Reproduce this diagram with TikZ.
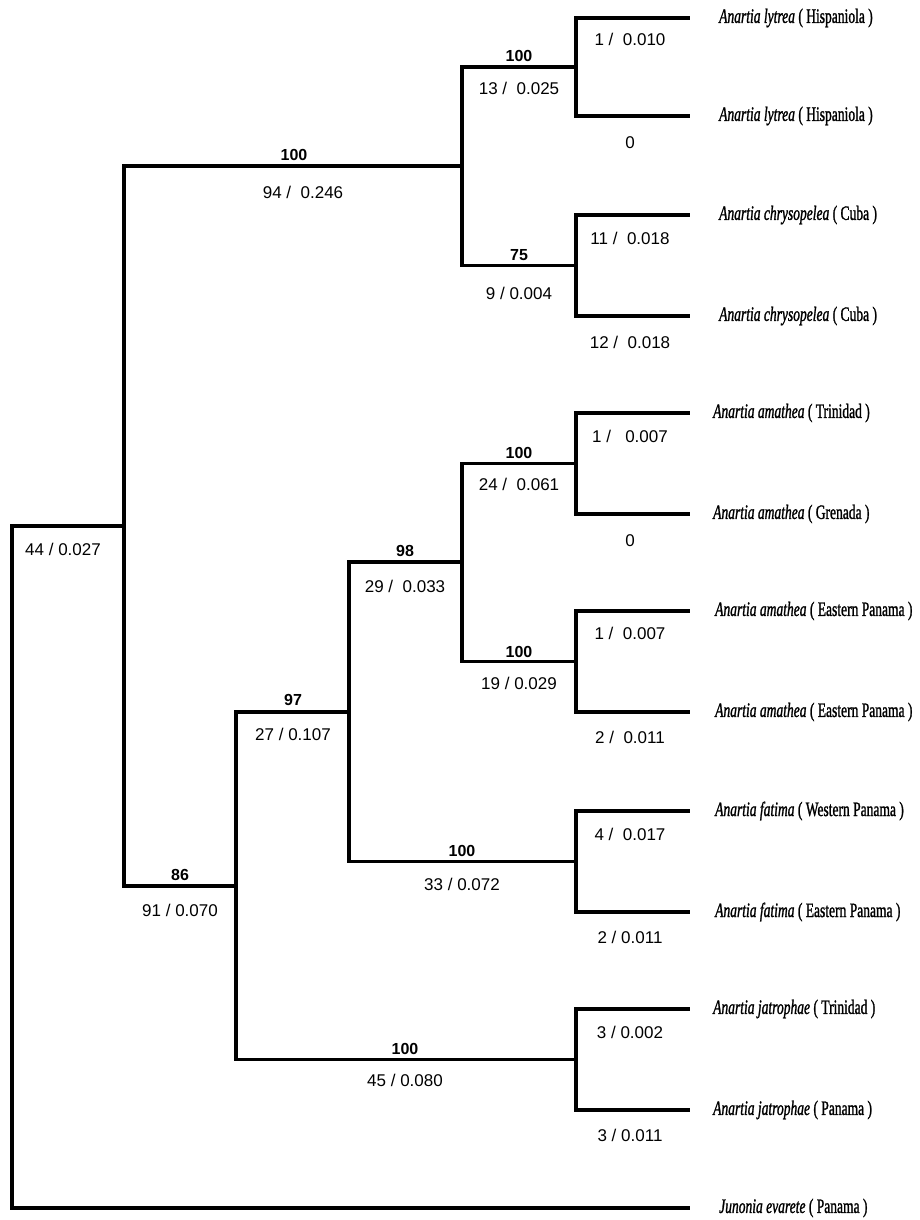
\documentclass[tikz,border=0pt]{standalone}
\usepackage{fontspec}
\setmainfont{Liberation Sans}
\newfontfamily\leaffont[FakeStretch=0.66,FakeBold=1.2]{Liberation Serif}
\begin{document}
\begin{tikzpicture}[x=1pt,y=-1pt,
  branch/.style={line width=3.6pt},
  boot/.style={font=\fontsize{16}{16}\selectfont\bfseries, inner sep=0pt},
  blen/.style={font=\fontsize{17}{17}\selectfont, inner sep=0pt},
  taxon/.style={font=\leaffont\fontsize{20.5}{20.5}\selectfont, anchor=west, inner sep=0pt}]
\useasboundingbox (0,0) rectangle (920,1220);
% internal nodes
\coordinate (R) at (12,867);
\coordinate (N86) at (124,526);
\coordinate (NA) at (462,166);
\coordinate (Nlyt) at (576,67);
\coordinate (Nchr) at (576,265.5);
\coordinate (N97) at (236,886);
\coordinate (N98) at (349,712);
\coordinate (Nam) at (462,562);
\coordinate (Nat) at (576,463.5);
\coordinate (Nep) at (576,661.5);
\coordinate (Nfa) at (576,861.5);
\coordinate (Nja) at (576,1059.5);
% leaves
\coordinate (L1) at (690,18);
\coordinate (L2) at (690,116);
\coordinate (L3) at (690,215);
\coordinate (L4) at (690,316);
\coordinate (L5) at (690,413);
\coordinate (L6) at (690,514);
\coordinate (L7) at (690,611);
\coordinate (L8) at (690,712);
\coordinate (L9) at (690,811);
\coordinate (L10) at (690,912);
\coordinate (L11) at (690,1009);
\coordinate (L12) at (690,1110);
\coordinate (L13) at (690,1208);
% branches
\draw[branch] (R) |- (N86);
\draw[branch] (R) |- (L13);
\draw[branch] (N86) |- (NA);
\draw[branch] (N86) |- (N97);
\draw[branch] (NA) |- (Nlyt);
\draw[branch] (NA) |- (Nchr);
\draw[branch] (Nlyt) |- (L1);
\draw[branch] (Nlyt) |- (L2);
\draw[branch] (Nchr) |- (L3);
\draw[branch] (Nchr) |- (L4);
\draw[branch] (N97) |- (N98);
\draw[branch] (N97) |- (Nja);
\draw[branch] (N98) |- (Nam);
\draw[branch] (N98) |- (Nfa);
\draw[branch] (Nam) |- (Nat);
\draw[branch] (Nam) |- (Nep);
\draw[branch] (Nat) |- (L5);
\draw[branch] (Nat) |- (L6);
\draw[branch] (Nep) |- (L7);
\draw[branch] (Nep) |- (L8);
\draw[branch] (Nfa) |- (L9);
\draw[branch] (Nfa) |- (L10);
\draw[branch] (Nja) |- (L11);
\draw[branch] (Nja) |- (L12);
% taxon labels
\node[taxon] (T1) at (719,18) {\textit{Anartia lytrea} ( Hispaniola )};
\node[taxon] (T2) at (719,116) {\textit{Anartia lytrea} ( Hispaniola )};
\node[taxon] (T3) at (719,215) {\textit{Anartia chrysopelea} ( Cuba )};
\node[taxon] (T4) at (719,316) {\textit{Anartia chrysopelea} ( Cuba )};
\node[taxon] (T5) at (713,413) {\textit{Anartia amathea} ( Trinidad )};
\node[taxon] (T6) at (713,514) {\textit{Anartia amathea} ( Grenada )};
\node[taxon] (T7) at (715,611) {\textit{Anartia amathea} ( Eastern Panama )};
\node[taxon] (T8) at (715,712) {\textit{Anartia amathea} ( Eastern Panama )};
\node[taxon] (T9) at (715,811) {\textit{Anartia fatima} ( Western Panama )};
\node[taxon] (T10) at (715,912) {\textit{Anartia fatima} ( Eastern Panama )};
\node[taxon] (T11) at (713,1009) {\textit{Anartia jatrophae} ( Trinidad )};
\node[taxon] (T12) at (713,1110) {\textit{Anartia jatrophae} ( Panama )};
\node[taxon] (T13) at (719,1208) {\textit{Junonia evarete} ( Panama )};
% bootstrap values
\node[boot] (b1) at (294,155) {100};
\node[boot] (b2) at (519,56) {100};
\node[boot] (b3) at (519,255) {75};
\node[boot] (b4) at (519,453) {100};
\node[boot] (b5) at (519,652) {100};
\node[boot] (b6) at (405,551) {98};
\node[boot] (b7) at (462,851) {100};
\node[boot] (b8) at (293,700) {97};
\node[boot] (b9) at (180,875) {86};
\node[boot] (b10) at (405,1049) {100};
% branch lengths
\node[blen] (l1) at (303,192) {94 /\ \ 0.246};
\node[blen] (l2) at (519,88) {13 /\ \ 0.025};
\node[blen] (l3) at (519,293) {9 / 0.004};
\node[blen] (l4) at (630,39) {1 /\ \ 0.010};
\node[blen] (l5) at (630,143) {0};
\node[blen] (l6) at (630,238) {11 /\ \ 0.018};
\node[blen] (l7) at (630,342) {12 /\ \ 0.018};
\node[blen] (l8) at (630,436) {1 /\ \ \ 0.007};
\node[blen] (l9) at (630,541) {0};
\node[blen] (l10) at (630,633) {1 /\ \ 0.007};
\node[blen] (l11) at (630,737) {2 /\ \ 0.011};
\node[blen] (l12) at (630,834) {4 /\ \ 0.017};
\node[blen] (l13) at (630,937) {2 / 0.011};
\node[blen] (l14) at (630,1032) {3 / 0.002};
\node[blen] (l15) at (630,1135) {3 / 0.011};
\node[blen] (l16) at (519,484) {24 /\ \ 0.061};
\node[blen] (l17) at (519,683) {19 / 0.029};
\node[blen] (l18) at (405,586) {29 /\ \ 0.033};
\node[blen] (l19) at (462,884) {33 / 0.072};
\node[blen] (l20) at (293,734) {27 / 0.107};
\node[blen] (l21) at (180,910) {91 / 0.070};
\node[blen] (l22) at (405,1080) {45 / 0.080};
\node[blen] (l23) at (63,549) {44 / 0.027};
\end{tikzpicture}
\end{document}
